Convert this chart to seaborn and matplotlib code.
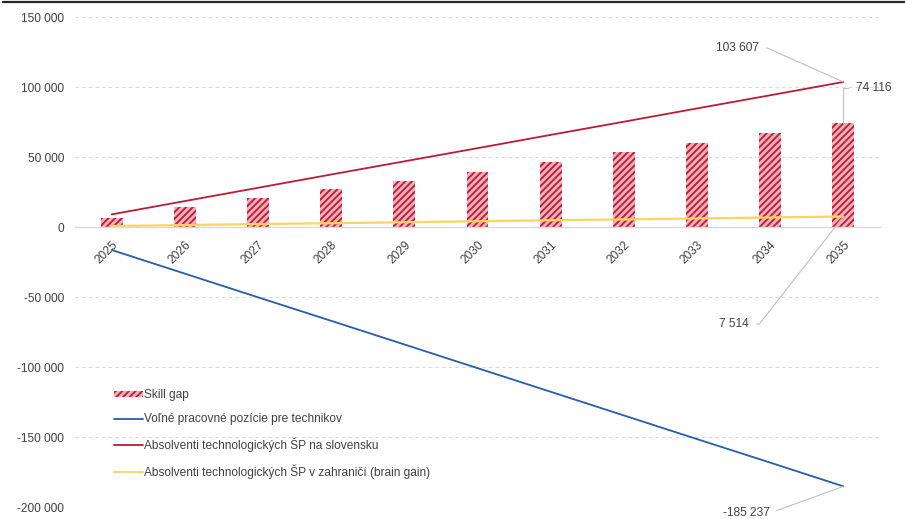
import numpy as np
import pandas as pd
import matplotlib
matplotlib.use("Agg")
import matplotlib.pyplot as plt
from matplotlib.ticker import FuncFormatter, MultipleLocator
from matplotlib.patches import Patch
from matplotlib.lines import Line2D
import seaborn as sns

years = ["2025", "2026", "2027", "2028", "2029", "2030", "2031", "2032", "2033", "2034", "2035"]
skill_gap = [6700, 14000, 20700, 27300, 33000, 39500, 46500, 53500, 60300, 67000, 74116]
volne_pozicie = [-16400, -33300, -50200, -67000, -83900, -100800, -117700, -134600, -151500, -168300, -185237]
absolventi_sk = [9000, 18500, 28000, 37500, 46900, 56300, 65800, 75200, 84700, 94100, 103607]
absolventi_zahr = [700, 1400, 2100, 2700, 3400, 4100, 4800, 5400, 6100, 6800, 7514]

labels = ["Skill gap", "Voľné pracovné pozície pre technikov",
          "Absolventi technologických ŠP na slovensku",
          "Absolventi technologických ŠP v zahraničí (brain gain)"]

RED_BAR = "#C41E3A"
BAR_FACE = "#EBB3BB"
BLUE = "#2A5CAA"
RED = "#B81D34"
YELLOW = "#FFD35C"
TXT = "#404040"
FS = 8.6
HATCH = "/////"

sns.set_theme(style="white")
plt.rcParams["font.family"] = ["Liberation Sans Narrow", "Liberation Sans", "DejaVu Sans"]
plt.rcParams["hatch.linewidth"] = 1.4

fig = plt.figure(figsize=(9.05, 5.19), dpi=100)
ax = fig.add_axes([75 / 905, 12 / 519, 805 / 905, 490 / 519])

df = pd.DataFrame({"year": years, "gap": skill_gap})
sns.barplot(data=df, x="year", y="gap", color=BAR_FACE, width=0.3, ax=ax,
            edgecolor=RED_BAR, linewidth=0, saturation=1)
for p in ax.patches:
    p.set_hatch(HATCH)
    p.set_facecolor(BAR_FACE)
    p.set_edgecolor(RED_BAR)
    p.set_linewidth(0)

idx = np.arange(len(years))
line_df = pd.DataFrame({"i": idx, "blue": volne_pozicie, "red": absolventi_sk, "yellow": absolventi_zahr})
sns.lineplot(data=line_df, x="i", y="blue", color=BLUE, lw=1.3, ax=ax)
sns.lineplot(data=line_df, x="i", y="red", color=RED, lw=1.3, ax=ax)
sns.lineplot(data=line_df, x="i", y="yellow", color=YELLOW, lw=1.6, ax=ax)

ax.set_xlim(-0.5, len(years) - 0.5)
ax.set_ylim(-200000, 150000)
ax.yaxis.set_major_locator(MultipleLocator(50000))
ax.yaxis.set_major_formatter(FuncFormatter(lambda v, p: f"{v:,.0f}".replace(",", " ")))
ax.set_xlabel("")
ax.set_ylabel("")
ax.yaxis.grid(True, color="#D9D9D9", linestyle=(0, (3, 3)), lw=0.8)
ax.xaxis.grid(False)
for s in ["top", "right", "left"]:
    ax.spines[s].set_visible(False)
ax.spines["bottom"].set_position(("data", 0))
ax.spines["bottom"].set_color("#D9D9D9")
ax.spines["bottom"].set_linewidth(1.0)
ax.tick_params(axis="both", length=0, colors=TXT, labelsize=FS)
ax.tick_params(axis="y", pad=8)
ax.set_xticks(idx)
ax.set_xticklabels(years, rotation=45, ha="right", va="top", rotation_mode="anchor")
for lab in ax.get_xticklabels():
    lab.set_transform(lab.get_transform() + matplotlib.transforms.ScaledTranslation(0 / 100, -7 / 100, fig.dpi_scale_trans))

# annotations at last year
last = len(years) - 1
arrow = dict(arrowstyle="-", color="#BFBFBF", lw=0.8, shrinkA=3, shrinkB=0)
ax.annotate(f"{absolventi_sk[-1]:,.0f}".replace(",", " "), xy=(last, absolventi_sk[-1]),
            xytext=(8.85, 127800), ha="right", va="center", fontsize=FS, color=TXT,
            arrowprops=dict(arrow, connectionstyle="angle,angleA=0,angleB=-24,rad=0"))
ax.annotate(f"{skill_gap[-1]:,.0f}".replace(",", " "), xy=(last, skill_gap[-1]),
            xytext=(10.17, 99300), ha="left", va="center", fontsize=FS, color=TXT,
            arrowprops=dict(arrow, connectionstyle="angle,angleA=180,angleB=90,rad=0"))
ax.annotate(f"{absolventi_zahr[-1]:,.0f}".replace(",", " "), xy=(last, absolventi_zahr[-1]),
            xytext=(8.71, -69300), ha="right", va="center", fontsize=FS, color=TXT,
            arrowprops=dict(arrow, connectionstyle="angle,angleA=0,angleB=52,rad=0"))
ax.annotate(f"{volne_pozicie[-1]:,.0f}".replace(",", " "), xy=(last, volne_pozicie[-1]),
            xytext=(8.99, -204300), ha="right", va="center", fontsize=FS, color=TXT,
            annotation_clip=False,
            arrowprops=dict(arrow, connectionstyle="angle,angleA=0,angleB=20,rad=0"))

handles = [Patch(facecolor=BAR_FACE, hatch=HATCH, edgecolor=RED_BAR, linewidth=0),
           Line2D([], [], color=BLUE, lw=1.3),
           Line2D([], [], color=RED, lw=1.3),
           Line2D([], [], color=YELLOW, lw=1.3)]
leg = ax.legend(handles, labels, loc="upper left", bbox_to_anchor=(0.042, 0.25),
                frameon=False, fontsize=FS, labelspacing=1.02, handlelength=2.5,
                handleheight=0.5, handletextpad=0.05, borderaxespad=0)
for t in leg.get_texts():
    t.set_color(TXT)

fig.add_artist(Line2D([0.003, 1.0], [0.996, 0.996], color="#262626", lw=1.6))

fig.savefig("out.png", dpi=100)
